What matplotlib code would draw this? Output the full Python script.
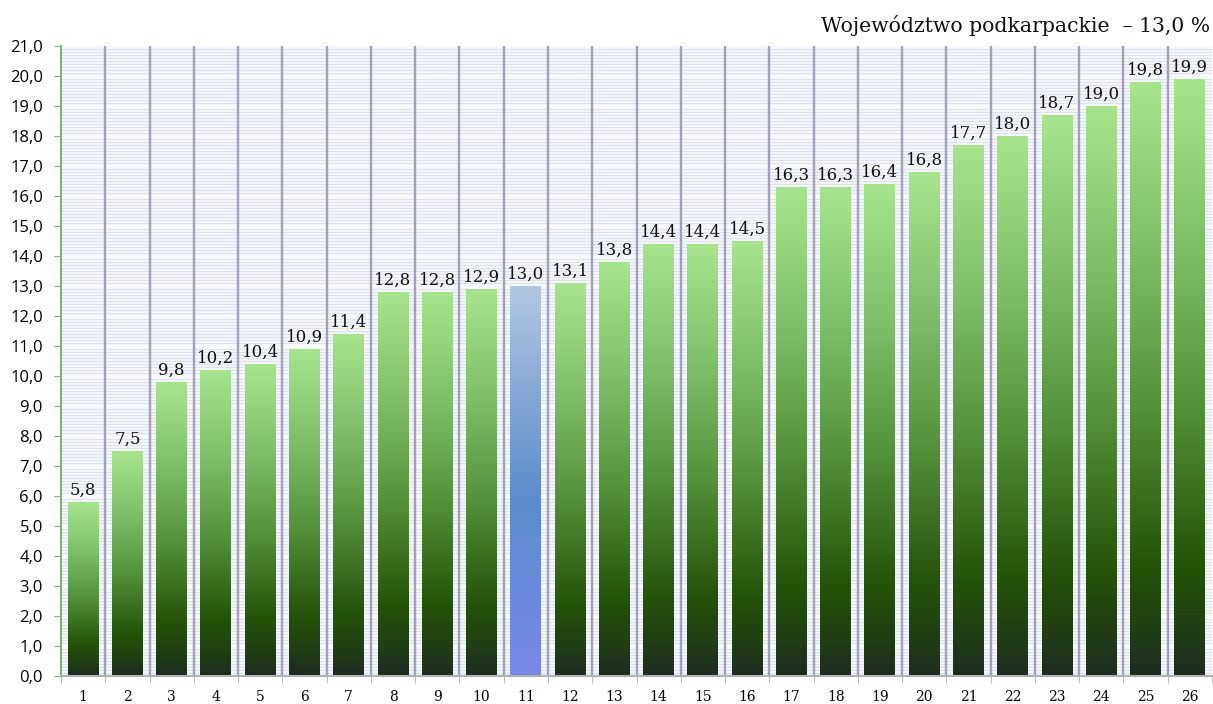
import numpy as np
import matplotlib
matplotlib.use("Agg")
import matplotlib.pyplot as plt
from matplotlib.colors import LinearSegmentedColormap
from matplotlib.ticker import MultipleLocator, FixedLocator

categories = [str(i) for i in range(1, 27)]
values = [5.8, 7.5, 9.8, 10.2, 10.4, 10.9, 11.4, 12.8, 12.8, 12.9, 13.0, 13.1, 13.8,
          14.4, 14.4, 14.5, 16.3, 16.3, 16.4, 16.8, 17.7, 18.0, 18.7, 19.0, 19.8, 19.9]
highlight = "11"
title = "Województwo podkarpackie  – 13,0 %"

green_cmap = LinearSegmentedColormap.from_list(
    "g", [(0.0, "#1f2a22"), (0.07, "#203d14"), (0.18, "#235209"),
          (0.45, "#54903a"), (0.7, "#7cbc66"), (1.0, "#a8e48e")])
blue_cmap = LinearSegmentedColormap.from_list(
    "b", [(0.0, "#7a88ea"), (0.2, "#6a8adc"), (0.45, "#5b8ccc"),
          (0.75, "#8aaad6"), (1.0, "#b1c8e2")])

fig = plt.figure(figsize=(12.13, 7.04), dpi=100)
ax = fig.add_axes([61/1213, 1-676/704, (1212-61)/1213, (676-46)/704])
ax.set_facecolor("#f8f9fc")

x = np.arange(1, len(values) + 1)
ax.set_xlim(0.5, len(values) + 0.5)
ax.set_ylim(0, 21)

# background minor grid
ax.yaxis.set_minor_locator(MultipleLocator(0.1))
ax.grid(which="minor", axis="y", color="#dde3ed", linewidth=0.9, zorder=0)
ax.set_axisbelow(True)

# vertical separators
for b in np.arange(1.5, len(values) + 0.5, 1.0):
    ax.axvline(b, color="#a0a0ba", linewidth=1.7, zorder=1)

bars = ax.bar(x, values, width=0.7, color="none", edgecolor="none", linewidth=0, zorder=2)
grad = np.linspace(0, 1, 256).reshape(-1, 1)
for rect, cat, v in zip(bars, categories, values):
    x0 = rect.get_x(); w = rect.get_width(); h = rect.get_height()
    cmap = blue_cmap if cat == highlight else green_cmap
    ax.imshow(grad, cmap=cmap, aspect="auto", origin="lower",
              extent=[x0, x0 + w, 0, h], zorder=2, interpolation="bilinear")
    ax.text(rect.get_x() + w/2, v + 0.1, f"{v:.1f}".replace(".", ","),
            ha="center", va="bottom", fontsize=12, family="DejaVu Serif",
            color="#111111", zorder=3)
ax.set_xlim(0.5, len(values) + 0.5)
ax.set_ylim(0, 21)

# ticks
yt = np.arange(0, 22, 1)
ax.set_yticks(yt)
ax.set_yticklabels([f"{t:.1f}".replace(".", ",") for t in yt], fontsize=12,
                   family="Open Sans")
ax.tick_params(axis="y", which="major", length=5, color="#7fb27f", pad=8)
ax.tick_params(axis="y", which="minor", length=0)

ax.set_xticks(x)
ax.set_xticklabels(categories, fontsize=10, family="DejaVu Serif")
ax.xaxis.set_minor_locator(FixedLocator(np.arange(0.5, len(values) + 1, 1.0)))
ax.tick_params(axis="x", which="major", length=0, pad=10)
ax.tick_params(axis="x", which="minor", length=5, color="#b0b0b0")

for s in ["top", "right"]:
    ax.spines[s].set_visible(False)
ax.spines["left"].set_color("#7fb27f")
ax.spines["left"].set_linewidth(1.5)
ax.spines["bottom"].set_color("#b0b0b0")
ax.spines["bottom"].set_linewidth(1.5)

fig.text(1210/1213, 1-25/704, title, ha="right", va="center", fontsize=14.7,
         family="DejaVu Serif", color="#111111")

fig.savefig("out.png", dpi=100)
